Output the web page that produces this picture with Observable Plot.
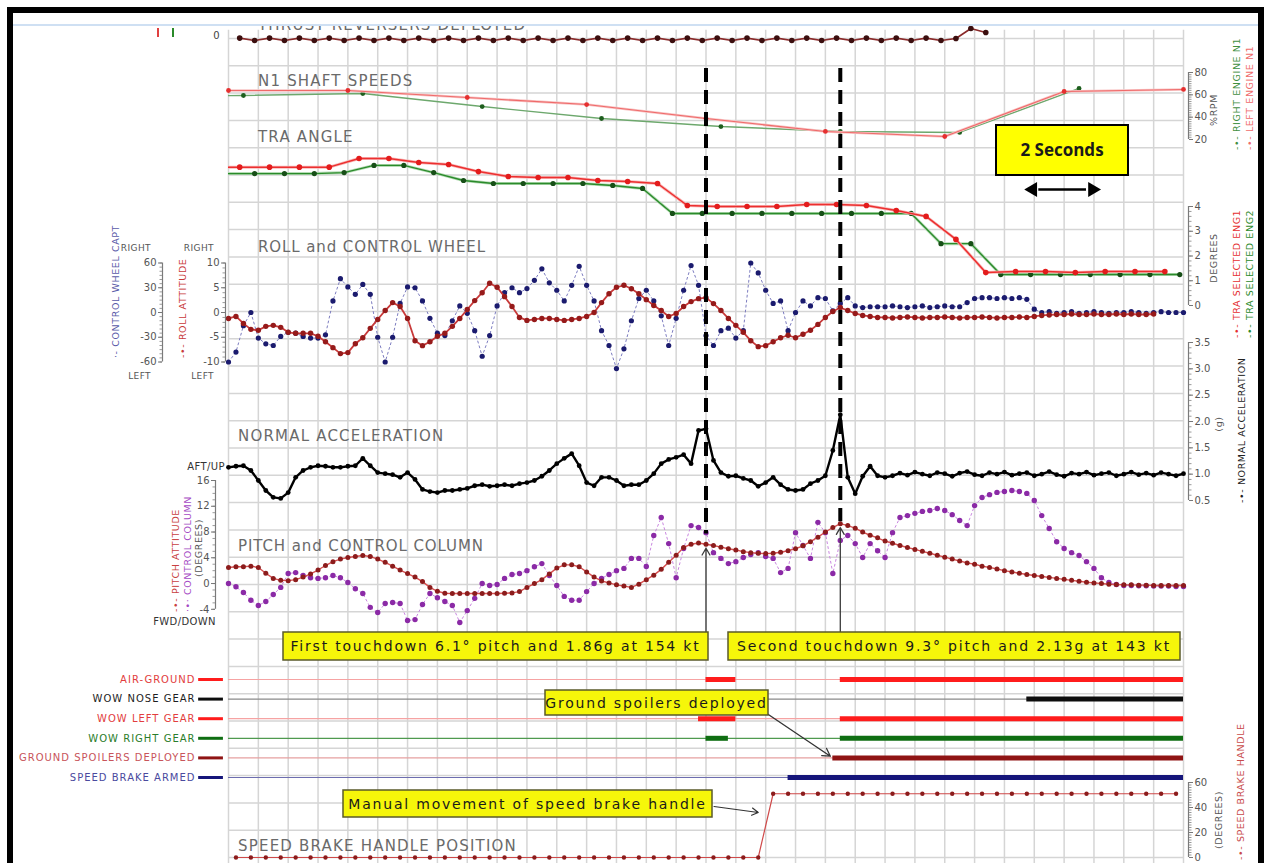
<!DOCTYPE html>
<html>
<head>
<meta charset="utf-8">
<script src="https://cdn.jsdelivr.net/npm/d3@7"></script>
<script src="https://cdn.jsdelivr.net/npm/@observablehq/plot@0.6"></script>
<style>
html,body{margin:0;padding:0;background:#fff;}
#chart{position:relative;width:1264px;height:863px;overflow:hidden;background:#fff;}
#chart > svg{position:absolute;left:0;top:0;}
#sky{position:absolute;left:13px;top:24px;width:1245px;height:2px;background:#cfe0f3;}
#frame{position:absolute;left:7px;top:7px;width:1257px;height:880px;box-sizing:border-box;border:6px solid #000;border-bottom:none;pointer-events:none;}
</style>
</head>
<body>
<div id="chart"></div>
<script>
// ---------------------------------------------------------------
// Flight data recorder traces around the two touchdowns (32 s window)
// ---------------------------------------------------------------
const W = 1264, H = 863;
const SPAN = 32;                 // seconds shown
const X_RANGE = [228, 1183];
const FONT = "DejaVu Sans, Liberation Sans, sans-serif";

// Thrust reverser discrete, 2 Hz, starting 0.375 s
const revStart = 0.375, revStep = 0.5;
const revValues = [0.2,0,0.2,0,0.2,0,0.2,0,0.2,0,0.2,0,0.2,0,0.2,0,0.2,0,0.2,0,0.2,0,0.2,0,
                   0.2,0,0.2,0,0.2,0,0.2,0,0.2,0,0.2,0,0.2,0,0.2,0,0.2,0,0.2,0,0.2,0,0.2,0,
                   0.17,1.0,0.67];

// N1 shaft speeds (%RPM), one sample every 4 s
const n1LeftTimes  = [0, 4, 8, 12, 16, 20, 24, 28, 32];
const n1LeftValues = [63.9, 63.9, 57.6, 51.3, 38.8, 27.2, 22.7, 63.0, 64.8];
const n1RightTimes  = [-3.5, 0.5, 4.5, 8.5, 12.5, 16.5, 20.5, 24.5, 28.5];
const n1RightValues = [58.5, 59.4, 61.2, 49.5, 38.8, 31.6, 27.2, 26.3, 65.7];

// Throttle resolver angle (degrees), 1 Hz
const traEng1Start = -0.625;
const traEng1 = [5.59,5.59,5.59,5.59,5.59,5.94,5.94,5.78,5.70,5.41,5.21,5.17,5.17,5.05,5.01,4.93,
                 4.04,4.00,4.00,4.00,4.08,4.08,4.04,3.84,3.60,2.67,1.33,1.37,1.37,1.33,1.37,1.37,1.37];
const traEng2Start = -0.125;
const traEng2 = [5.33,5.33,5.33,5.33,5.37,5.66,5.66,5.37,5.05,4.93,4.93,4.93,4.93,4.85,4.73,3.72,
                 3.72,3.72,3.72,3.72,3.72,3.72,3.72,3.72,2.50,2.50,1.25,1.25,1.25,1.25,1.25,1.25,1.25];

// Roll attitude (deg) and captain control wheel (deg), 4 Hz
const rollAttitude = [
  -1.2,-0.8,-2.2,-3.4, -3.6,-2.8,-2.6,-3.0, -4.0,-4.2,-4.2,-4.2, -4.8,-5.9,-7.1,-8.3,
  -8.1,-6.3,-5.1,-3.2, -1.4,0.4,2.0,1.2, -1.2,-5.7,-6.7,-5.9, -4.8,-4.2,-2.8,-1.2,
  0.6,2.4,4.0,5.9, 5.1,3.2,1.2,-1.0, -1.6,-1.4,-1.2,-1.2, -1.4,-1.6,-1.4,-1.2,
  -0.8,0.0,2.0,3.8, 5.1,5.5,4.8,3.8, 2.6,1.4,0.4,-0.8, -0.2,1.2,2.2,2.8,
  3.0,1.8,0.4,-1.2, -2.6,-4.0,-5.7,-6.9, -6.7,-5.9,-5.1,-4.6, -5.1,-4.4,-3.6,-2.4,
  -1.0,0.2,1.0,0.4, -0.2,-0.6,-0.8,-1.0, -1.0,-1.1,-1.0,-0.9, -1.0,-1.1,-1.0,-1.0,
  -0.9,-1.0,-1.1,-1.0, -1.0,-0.9,-1.0,-1.1, -1.0,-1.0,-0.9,-1.0, -0.8,-0.6,-0.5,-0.4,
  -0.4,-0.3,-0.4,-0.4, -0.3,-0.4,-0.4,-0.3, -0.4,-0.3,-0.4,-0.4, -0.3];
const controlWheel = [
  -60,-48,-16,0, -31,-38,-40,-29, -24,-25,-29,-31, -31,-27,14,41,
  31,22,34,22, -30,-60,-30,11, 31,30,14,-7, -25,-28,-10,8,
  -1,-22,-53,-28, 8,24,30,24, 29,39,53,36, 27,14,33,56,
  33,14,-22,-40, -68,-44,-10,17, 27,14,-4,-40, -7,27,57,33,
  -28,-40,-22,-19, -31,-22,60,48, 27,11,14,-22, 0,14,8,18,
  17,2,11,18, 8,6,7,7, 7,8,7,6, 7,8,6,7,
  8,7,7,12, 17,18,18,17, 18,17,18,16, 4,0,1,-1,
  0,1,-1,0, 1,0,-1,0, 0,1,0,-1, 0,1,0,0, 0];

// Normal acceleration (g), 4 Hz
const normalAccel = [
  1.13,1.15,1.16,1.07, 0.88,0.69,0.56,0.54, 0.65,0.94,1.07,1.13, 1.16,1.15,1.13,1.13,
  1.15,1.16,1.30,1.16, 1.03,1.01,0.99,0.94, 1.03,0.90,0.71,0.67, 0.65,0.69,0.69,0.71,
  0.73,0.78,0.80,0.77, 0.78,0.80,0.78,0.82, 0.84,0.88,0.96,1.07, 1.20,1.30,1.39,1.16,
  0.84,0.78,0.94,0.94, 0.88,0.78,0.80,0.80, 0.88,1.01,1.20,1.28, 1.32,1.37,1.20,1.83,
  1.86,1.26,1.03,0.96, 0.97,0.92,0.88,0.77, 0.84,0.94,0.80,0.71, 0.69,0.71,0.82,0.88,
  0.97,1.45,2.13,0.94, 0.63,0.96,1.15,0.97, 0.94,0.97,1.02,0.98, 1.04,1.00,0.97,1.03,
  1.01,0.96,1.02,1.05, 0.99,0.97,1.03,1.00, 1.04,0.98,1.01,1.03, 0.97,1.00,1.05,0.99,
  0.96,1.02,1.00,1.04, 0.98,1.01,1.03,0.97, 1.00,1.04,0.99,1.02, 0.98,1.03,1.00,0.97, 1.01];

// Pitch attitude and control column (deg), 4 Hz
const pitchAttitude = [
  2.5,2.6,2.6,2.7, 2.5,1.6,0.8,0.5, 0.45,0.6,1.0,1.5, 2.1,2.8,3.4,3.8,
  4.05,4.2,4.35,4.2, 3.8,3.3,2.7,2.1, 1.55,1.0,0.3,-0.6, -1.2,-1.5,-1.55,-1.55,
  -1.55,-1.55,-1.55,-1.55, -1.55,-1.5,-1.45,-1.25, -0.6,0.0,0.6,1.5, 2.4,2.9,2.9,2.6,
  1.8,1.0,0.4,0.1, -0.2,-0.4,-0.6,-0.1, 0.6,1.3,2.2,3.3, 4.4,5.6,6.1,6.3,
  6.1,5.9,5.65,5.4, 5.2,4.95,4.8,4.7, 4.65,4.7,4.85,5.1, 5.4,5.85,6.5,7.2,
  8.0,8.7,9.3,9.0, 8.6,8.0,7.5,7.1, 6.6,6.25,5.9,5.6, 5.3,5.0,4.7,4.4,
  4.1,3.8,3.5,3.2, 3.0,2.7,2.5,2.25, 2.0,1.8,1.6,1.4, 1.25,1.1,0.95,0.8,
  0.65,0.5,0.35,0.2, 0.1,0.0,-0.1,-0.15, -0.2,-0.2,-0.25,-0.25, -0.3,-0.3,-0.3,-0.3, -0.3];
const controlColumn = [
  0,-0.5,-1.4,-2.6, -3.4,-2.8,-1.7,-0.6, 1.55,1.7,1.25,0.9, 0.8,0.9,1.25,0.9,
  0.15,-0.8,-1.55,-3.7, -4.5,-3.1,-2.95,-3.1, -5.75,-5.6,-3.25,-1.55, -2.2,-2.8,-3.4,-6.05,
  -4.2,-2.3,0,-0.3, -0.15,0.8,1.4,1.55, 2.0,2.6,3.1,1.25, -0.3,-2.0,-2.6,-2.6,
  -1.25,0,0.8,1.4, 2.0,2.35,3.9,3.9, 2.65,7.45,10.25,6.2, 0.9,5.45,9.0,8.7,
  7.9,4.8,3.9,3.1, 3.4,4.05,4.5,4.8, 4.2,3.9,1.7,2.35, 7.9,5.9,3.9,9.5,
  7.9,1.55,6.7,7.45, 6.2,4.05,6.2,5.1, 4.05,7.9,10.25,10.55, 10.9,11.2,11.35,11.65,
  11.35,10.7,9.8,9.0, 12.1,13.35,13.8,14.15, 14.3,14.45,14.3,14.0, 12.9,10.55,8.55,6.5,
  5.45,4.8,4.35,3.4, 2.35,0.9,0.15,-0.15, -0.3,-0.3,-0.35,-0.35, -0.4,-0.4,-0.4,-0.45, -0.45];

// Speed brake handle position (deg), 2 Hz starting 0.25 s
const sbStart = 0.25, sbStep = 0.5;
const speedBrake = [0,0,0,0,0,0,0,0,0,0,0,0,0,0,0,0,0,0,0,0,0,0,0,0,0,0,0,0,0,0,0,0,0,0,0,0,
                    51,51,51,51,51,51,51,51,51,51,51,51,51,51,51,51,51,51,51,51,51,51,51,51,51,51,51,51];

// Discrete parameters
const discreteNames  = ["AIR-GROUND","WOW NOSE GEAR","WOW LEFT GEAR","WOW RIGHT GEAR","GROUND SPOILERS DEPLOYED","SPEED BRAKE ARMED"];
const discreteInk    = ["#ff1c1c","#0d0d0d","#ff1c1c","#0f6e12","#8f1414","#15157a"];
const discreteFaint  = ["#f6a3a3","#8a8a8a","#f6a3a3","#4f9a4f","#e6a0a0","#6d6daf"];
const discreteLabel  = ["#e23d3d","#1e1e1e","#e23d3d","#2a7d2a","#c8545a","#4a4a9e"];
const onRow   = [0, 0, 1, 2, 2, 3, 3, 4, 5];
const onStart = [16, 20.5, 26.75, 15.75, 20.5, 16, 20.5, 20.25, 18.75];
const onEnd   = [17, 32, 32, 17, 32, 16.75, 32, 32, 32];

// Touchdown events
const tdName  = ["First", "Second"];
const tdTime  = [16, 20.5];
const tdPitch = [6.1, 9.3];
const tdG     = [1.86, 2.13];
const tdSpeed = [154, 143];

// Axis tick labels
const n1Ticks = [20, 40, 60, 80];
const traTicks = [0, 1, 2, 3, 4];
const wheelTicks = [-60, -30, 0, 30, 60];
const rollTicks = [-10, -5, 0, 5, 10];
const gTicks = [0.5, 1.0, 1.5, 2.0, 2.5, 3.0, 3.5];
const pitchTicks = [-4, 0, 4, 8, 12, 16];
const sbTicks = [0, 20, 40, 60];

// ---------------------------------------------------------------
const sampled = (t0, dt, values) => values.map((v, i) => ({t: t0 + i * dt, v}));
const paired = (times, values) => values.map((v, i) => ({t: times[i], v}));

const rev = sampled(revStart, revStep, revValues);
const n1L = paired(n1LeftTimes, n1LeftValues);
const n1R = paired(n1RightTimes, n1RightValues);
const tra1 = sampled(traEng1Start, 1, traEng1);
const tra2 = sampled(traEng2Start, 1, traEng2);
const roll = sampled(0, 0.25, rollAttitude);
const wheel = sampled(0, 0.25, controlWheel);
const accel = sampled(0, 0.25, normalAccel);
const pitch = sampled(0, 0.25, pitchAttitude);
const column = sampled(0, 0.25, controlColumn);
const sb = sampled(sbStart, sbStep, speedBrake);
const rows = discreteNames.map((name, i) => ({name, row: i, ink: discreteInk[i], faint: discreteFaint[i], label: discreteLabel[i]}));
const segments = onRow.map((r, i) => ({row: r, start: onStart[i], end: onEnd[i], ink: discreteInk[r]}));
const touchdowns = tdTime.map((t, i) => ({t, pitch: tdPitch[i], g: tdG[i], kt: tdSpeed[i], name: tdName[i]}));

// vertical placement of each strip on the page
const ROWS_Y  = {domain: [0, 30], range: [38, 857]};     // background grid rows
const REV_Y   = {domain: [0, 1], range: [40, 28]};
const N1_Y    = {domain: [20, 80], range: [139, 72]};
const TRA_Y   = {domain: [0, 4], range: [305, 206]};
const ROLL_Y  = {domain: [-10, 10], range: [361.5, 262.5]};
const WHEEL_Y = {domain: [-60, 60], range: [361.5, 262.5]};
const G_Y     = {domain: [0.5, 3.5], range: [500, 342]};
const PITCH_Y = {domain: [-4, 16], range: [608.8, 480]};
const DISC_Y  = {domain: [0, 5], range: [679, 777]};
const SB_Y    = {domain: [0, 60], range: [857, 782]};

const chart = document.getElementById("chart");

function layer(y, marks, opts = {}) {
  const svg = Plot.plot({
    width: W, height: H,
    marginTop: 0, marginBottom: 0,
    marginLeft: opts.left ?? 228, marginRight: opts.right ?? 76,
    x: {domain: [0, SPAN], range: X_RANGE, axis: null},
    y: {domain: y.domain, range: y.range, axis: null},
    color: {type: "identity"},
    style: {background: "transparent", overflow: "visible", fontFamily: FONT},
    marks
  });
  chart.appendChild(svg);
  return svg;
}

const fmt = d => (d < 0 ? "-" + (-d) : String(d));

function rightAxis(y, ticks, format = fmt) {
  return [
    Plot.ruleX([SPAN], {y1: y.domain[0], y2: y.domain[1], dx: 5, stroke: "#7a7a7a", strokeWidth: 1.2}),
    Plot.axisY({anchor: "right", ticks: 24, tickSize: 2.5, tickFormat: () => "", stroke: "#9a9a9a", label: null}),
    Plot.axisY(ticks, {anchor: "right", tickSize: 4, tickPadding: 2, fontSize: 10, fill: "#555", stroke: "#777", tickFormat: format, label: null})
  ];
}

function leftAxis(y, ticks, axisX) {
  layer(y, [
    Plot.ruleX([0], {y1: y.domain[0], y2: y.domain[1], dx: axisX - X_RANGE[0], stroke: "#7a7a7a", strokeWidth: 1.2}),
    Plot.axisY({anchor: "left", ticks: 24, tickSize: 2.5, tickFormat: () => "", stroke: "#9a9a9a", label: null}),
    Plot.axisY(ticks, {anchor: "left", tickSize: 4, tickPadding: 2, fontSize: 10, fill: "#555", stroke: "#777", tickFormat: fmt, label: null})
  ], {left: axisX});
}

// background grid: one column per second
layer(ROWS_Y, [
  Plot.ruleY(d3.range(0, 31), {y: d => d, x1: 0, x2: SPAN, stroke: "#d5d5d5", strokeWidth: 1.5}),
  Plot.ruleX(d3.range(0, SPAN + 1), {x: d => d, y1: -0.3, y2: 30.3, stroke: "#d5d5d5", strokeWidth: 1.5})
]);

// thrust reverser
layer(REV_Y, [
  Plot.line(rev, {x: "t", y: "v", stroke: "#8a2a2a", strokeWidth: 1.6}),
  Plot.dot(rev, {x: "t", y: "v", r: 2.8, fill: "#3b0e0e"})
]);

// N1
layer(N1_Y, [
  Plot.line(n1R, {x: "t", y: "v", stroke: "#6da86d", strokeWidth: 1.4, clip: true}),
  Plot.dot(n1R, {x: "t", y: "v", r: 2.4, fill: "#1e5e1e", clip: true}),
  Plot.line(n1L, {x: "t", y: "v", stroke: "#f8c4c4", strokeWidth: 2.6}),
  Plot.line(n1L, {x: "t", y: "v", stroke: "#ef6a6a", strokeWidth: 1.1}),
  Plot.dot(n1L, {x: "t", y: "v", r: 2.4, fill: "#e53030"}),
  ...rightAxis(N1_Y, n1Ticks)
]);

// TRA
layer(TRA_Y, [
  Plot.line(tra2, {x: "t", y: "v", stroke: "#b5dcb5", strokeWidth: 3, clip: true}),
  Plot.line(tra2, {x: "t", y: "v", stroke: "#2b8a2b", strokeWidth: 1.4, clip: true}),
  Plot.dot(tra2, {x: "t", y: "v", r: 2.6, fill: "#174f17", clip: true}),
  Plot.line(tra1, {x: "t", y: "v", stroke: "#f8b8b8", strokeWidth: 3, clip: true}),
  Plot.line(tra1, {x: "t", y: "v", stroke: "#ec2f2f", strokeWidth: 1.5, clip: true}),
  Plot.dot(tra1, {x: "t", y: "v", r: 2.8, fill: "#e31c1c", clip: true}),
  ...rightAxis(TRA_Y, traTicks)
]);

// roll and control wheel
layer(WHEEL_Y, [
  Plot.line(wheel, {x: "t", y: "v", stroke: "#7c7cc0", strokeWidth: 1, strokeDasharray: "2,3"}),
  Plot.dot(wheel, {x: "t", y: "v", r: 2.6, fill: "#1b1b6e"})
]);
layer(ROLL_Y, [
  Plot.line(roll, {x: "t", y: "v", stroke: "#c83a3a", strokeWidth: 1.8}),
  Plot.dot(roll, {x: "t", y: "v", r: 2.7, fill: "#961a1a"})
]);
leftAxis(WHEEL_Y, wheelTicks, 162);
leftAxis(ROLL_Y, rollTicks, 225);

// normal acceleration
layer(G_Y, [
  Plot.line(accel, {x: "t", y: "v", stroke: "#000", strokeWidth: 2.4}),
  Plot.dot(accel, {x: "t", y: "v", r: 2.4, fill: "#000"}),
  ...rightAxis(G_Y, gTicks, d3.format(".1f"))
]);

// pitch and control column
layer(PITCH_Y, [
  Plot.line(column, {x: "t", y: "v", stroke: "#c986e0", strokeWidth: 1, strokeDasharray: "2,3"}),
  Plot.dot(column, {x: "t", y: "v", r: 2.7, fill: "#8b2aa6"}),
  Plot.line(pitch, {x: "t", y: "v", stroke: "#d65050", strokeWidth: 1.4}),
  Plot.dot(pitch, {x: "t", y: "v", r: 2.5, fill: "#8c1c1c"}),
  Plot.arrow(touchdowns, {x1: "t", x2: "t", y1: -7.6, y2: "pitch", insetEnd: 4, headLength: 9, stroke: "#3c3c3c", strokeWidth: 1.3})
]);
leftAxis(PITCH_Y, pitchTicks, 215);

// discretes
const discSvg = layer(DISC_Y, [
  Plot.ruleY(rows, {y: "row", x1: 0, x2: SPAN, stroke: "faint", strokeWidth: 1.2}),
  Plot.ruleY(segments, {y: "row", x1: "start", x2: "end", stroke: "ink", strokeWidth: 5}),
  Plot.ruleY(rows, {y: "row", x1: -1.0, x2: -0.17, stroke: "ink", strokeWidth: 3}),
  Plot.text(rows, {y: "row", text: "name", frameAnchor: "left", textAnchor: "end", dx: -33, fill: "label", fontSize: 10}),
  Plot.arrow([{x1: 17.99, y1: 1.68, x2: 20.25, y2: 4}], {x1: "x1", y1: "y1", x2: "x2", y2: "y2", insetEnd: 3, headLength: 10, stroke: "#333", strokeWidth: 1.3})
]);
d3.select(discSvg).selectAll("text").attr("letter-spacing", 1.0);

// speed brake handle
layer(SB_Y, [
  Plot.line(sb, {x: "t", y: "v", stroke: "#d04a4a", strokeWidth: 1.2}),
  Plot.dot(sb, {x: "t", y: "v", r: 2.2, fill: "#8c1c1c"}),
  Plot.arrow([{x1: 16.27, y1: 40.8, x2: 17.75, y2: 36}], {x1: "x1", y1: "y1", x2: "x2", y2: "y2", headLength: 9, stroke: "#333", strokeWidth: 1.2}),
  ...rightAxis(SB_Y, sbTicks)
]);

// touchdown markers and the 2-second scale bar
const scaleBar = [{x1: 26.95, x2: 28.95, row: 5.53}];
layer(ROWS_Y, [
  Plot.ruleX(touchdowns, {x: "t", y1: 1.1, y2: (d, i) => [18.15, 17.7][i], stroke: "#000", strokeWidth: 4, strokeDasharray: "14,8"}),
  Plot.ruleY(scaleBar, {x1: "x1", x2: "x2", y: "row", stroke: "#000", strokeWidth: 2.5, insetLeft: 6, insetRight: 6}),
  Plot.dot(scaleBar, {x: "x1", y: "row", symbol: "triangle", r: 5.5, fill: "#000", rotate: -90}),
  Plot.dot(scaleBar, {x: "x2", y: "row", symbol: "triangle", r: 5.5, fill: "#000", rotate: 90})
]);

// ---------------------------------------------------------------
// titles, legends and callouts
const lab = d3.select(chart).append("svg").attr("width", W).attr("height", H)
  .style("font-family", FONT).style("overflow", "visible");
lab.append("clipPath").attr("id", "topclip").append("rect").attr("x", 0).attr("y", 26).attr("width", W).attr("height", 20);

function text(s, x, y, o = {}) {
  const t = lab.append("text").attr("x", x).attr("y", y).text(s)
    .attr("font-size", o.size ?? 10).attr("fill", o.color ?? "#5e5e5e")
    .attr("text-anchor", o.anchor ?? "start")
    .attr("letter-spacing", o.spacing ?? 0.4);
  if (o.rotate) t.attr("transform", `rotate(${o.rotate},${x},${y})`);
  if (o.weight) t.attr("font-weight", o.weight);
  if (o.family) t.attr("font-family", o.family);
  if (o.clip) t.attr("clip-path", `url(#${o.clip})`);
  return t;
}

// strip titles
const titleStyle = {size: 15, color: "#6a6a6a", spacing: 1.2};
text("THRUST REVERSERS DEPLOYED", 258, 30, {...titleStyle, clip: "topclip"});
text("N1 SHAFT SPEEDS", 258, 86, titleStyle);
text("TRA ANGLE", 258, 142, titleStyle);
text("ROLL and CONTROL WHEEL", 258, 252, {...titleStyle, spacing: 0.9});
text("NORMAL ACCELERATION", 238, 441, titleStyle);
text("PITCH and CONTROL COLUMN", 238, 551, {...titleStyle, spacing: 0.9});
text("SPEED BRAKE HANDLE POSITION", 238, 851, titleStyle);

// top strip bits
text("0", 220, 39, {anchor: "end", size: 10, color: "#444"});
lab.append("rect").attr("x", 157).attr("y", 28).attr("width", 2).attr("height", 9).attr("fill", "#e04040");
lab.append("rect").attr("x", 172).attr("y", 28).attr("width", 2).attr("height", 9).attr("fill", "#2a8a2a");

// right-hand legends
const legend = {rotate: -90, size: 9.5, spacing: 0.6};
text("%RPM", 1217, 110, {...legend, anchor: "middle", color: "#555"});
text("-•- RIGHT ENGINE N1", 1240, 150, {...legend, color: "#3f8f3f"});
text("-•- LEFT ENGINE N1", 1253, 150, {...legend, color: "#ef6b6b"});
text("DEGREES", 1217, 258, {...legend, anchor: "middle", color: "#555"});
text("-•- TRA SELECTED ENG1", 1240, 338, {...legend, color: "#e53030"});
text("-•- TRA SELECTED ENG2", 1253, 338, {...legend, color: "#2b8a2b"});
text("(g)", 1222, 424, {...legend, anchor: "middle", color: "#555"});
text("-•- NORMAL ACCELERATION", 1245, 503, {...legend, color: "#222"});
text("(DEGREES)", 1222, 820, {...legend, anchor: "middle", color: "#555"});
text("-•- SPEED BRAKE HANDLE", 1244, 860, {...legend, color: "#c84a4a"});

// left-hand legends
text("·- CONTROL WHEEL CAPT", 119, 358, {...legend, color: "#5a5aa8"});
text("-•- ROLL ATTITUDE", 186, 358, {...legend, color: "#c83a3a"});
text("RIGHT", 151, 251, {anchor: "end", size: 9, color: "#555"});
text("RIGHT", 214, 251, {anchor: "end", size: 9, color: "#555"});
text("LEFT", 151, 379, {anchor: "end", size: 9, color: "#555"});
text("LEFT", 214, 379, {anchor: "end", size: 9, color: "#555"});
text("-•- PITCH ATTITUDE", 179, 612, {...legend, color: "#c84040"});
text("·•· CONTROL COLUMN", 191, 612, {...legend, color: "#a54ac4"});
text("(DEGREES)", 202, 548, {...legend, anchor: "middle", color: "#555"});
text("AFT/UP", 225, 470, {anchor: "end", size: 10, color: "#333"});
text("FWD/DOWN", 216, 625, {anchor: "end", size: 10, color: "#333"});

// callout boxes
function callout(s, x, y, w, h, o = {}) {
  lab.append("rect").attr("x", x).attr("y", y).attr("width", w).attr("height", h)
    .attr("fill", o.fill ?? "#f6f60a").attr("stroke", o.stroke ?? "#5a5a2a").attr("stroke-width", o.sw ?? 1.5);
  text(s, x + w / 2, y + h / 2 + (o.size ?? 14) * 0.36, {
    anchor: "middle", size: o.size ?? 14, color: "#1a1a1a", spacing: o.spacing ?? 1.8, weight: o.weight, family: o.family
  });
}
const tdBoxes = [[283, 632, 425, 28], [728, 632, 452, 28]];
touchdowns.forEach((d, i) => {
  const [x, y, w, h] = tdBoxes[i];
  callout(`${d.name} touchdown ${d.pitch}° pitch and ${d.g}g at ${d.kt} kt`, x, y, w, h);
});
callout("Ground spoilers deployed", 545, 690, 223, 25);
callout("Manual movement of speed brake handle", 343, 790, 369, 27);
callout("2 Seconds", 996, 125, 132, 50, {fill: "#ffff00", stroke: "#000", sw: 2, size: 17, spacing: 0, weight: "bold",
  family: "Open Sans, Liberation Sans, sans-serif"});

// page chrome
chart.insertAdjacentHTML("beforeend", '<div id="sky"></div><div id="frame"></div>');
</script>
</body>
</html>
